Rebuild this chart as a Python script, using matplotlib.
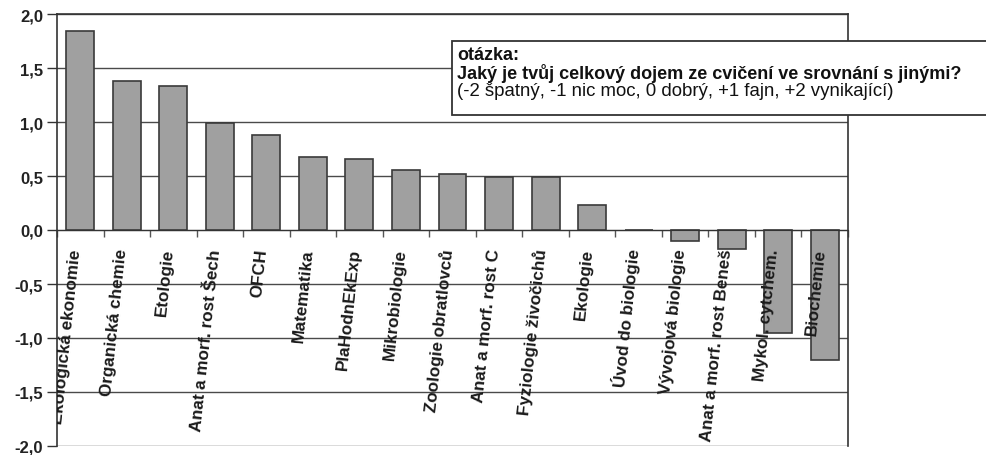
import matplotlib
matplotlib.use("Agg")
import matplotlib.pyplot as plt
from matplotlib.patches import Rectangle
import numpy as np

plt.rcParams['font.family'] = ['Liberation Sans', 'DejaVu Sans']

categories = ["Ekologická ekonomie", "Organická chemie", "Etologie",
              "Anat a morf. rost Šech", "OFCH", "Matematika", "PlaHodnEkExp",
              "Mikrobiologie", "Zoologie obratlovců", "Anat a morf. rost C",
              "Fyziologie živočichů", "Ekologie", "Úvod do biologie",
              "Vývojová biologie", "Anat a morf. rost Beneš", "Mykol. cytchem.",
              "Biochemie"]
values = [1.84, 1.38, 1.33, 0.99, 0.88, 0.68, 0.66, 0.56, 0.52, 0.49, 0.49,
          0.23, 0.0, -0.10, -0.18, -0.95, -1.20]
y_ticks = [-2.0, -1.5, -1.0, -0.5, 0.0, 0.5, 1.0, 1.5, 2.0]
y_tick_labels = ["-2,0", "-1,5", "-1,0", "-0,5", "0,0", "0,5", "1,0", "1,5", "2,0"]
box_title = "otázka:"
box_question = "Jaký je tvůj celkový dojem ze cvičení ve srovnání s jinými?"
box_scale = "(-2 špatný, -1 nic moc, 0 dobrý, +1 fajn, +2 vynikající)"

W, H = 986, 456
fig = plt.figure(figsize=(W / 100, H / 100), dpi=100)
ax = fig.add_axes([57 / W, 1 - 447 / H, (848 - 57) / W, (447 - 15) / H])

x = np.arange(len(categories))
ax.bar(x, values, width=0.6, color="#a0a0a0", edgecolor="#3a3a3a",
       linewidth=1.2, zorder=3)

ax.set_xlim(-0.5, len(categories) - 0.5)
ax.set_ylim(-2.0, 2.0)
ax.set_yticks(y_ticks)
ax.set_yticklabels(y_tick_labels, fontsize=12, fontweight="bold", color="#222222")
ax.yaxis.grid(True, color="#4a4a4a", linewidth=1.0, zorder=0)
ax.tick_params(axis="y", length=7, width=1.0, color="#333333", pad=3)

# category axis crossing at zero
ax.spines["bottom"].set_position(("data", 0))
ax.spines["bottom"].set_color("#333333")
ax.spines["bottom"].set_zorder(4)
ax.set_xticks(np.arange(len(categories) + 1) - 0.5)
ax.set_xticklabels([])
ax.tick_params(axis="x", direction="out", length=5, width=1.0, color="#555555")
for s in ["left", "right", "top"]:
    ax.spines[s].set_color("#333333")
    ax.spines[s].set_linewidth(1.2)

for i, name in enumerate(categories):
    ax.text(i - 0.1, -0.17, name, rotation=84, rotation_mode="anchor",
            ha="right", va="center", fontsize=12.3, fontweight="bold",
            color="#1a1a1a", zorder=5, clip_on=True)

# annotation box (extends beyond right edge)
bx0, by0, by1 = 452 / W, 1 - 116 / H, 1 - 42 / H
fig.patches.append(Rectangle((bx0, by0), 0.6, by1 - by0, transform=fig.transFigure,
                             facecolor="white", edgecolor="#333333", linewidth=1.3,
                             zorder=10))
fig.text(457 / W, 1 - 56 / H, box_title, fontsize=13, fontweight="bold",
         va="center", ha="left", color="#111111", zorder=11)
fig.text(457 / W, 1 - 74 / H, box_question, fontsize=13, fontweight="bold",
         va="center", ha="left", color="#111111", zorder=11)
fig.text(457 / W, 1 - 92 / H, box_scale, fontsize=13.4,
         va="center", ha="left", color="#111111", zorder=11)

fig.savefig("out.png", dpi=100, facecolor="white")
